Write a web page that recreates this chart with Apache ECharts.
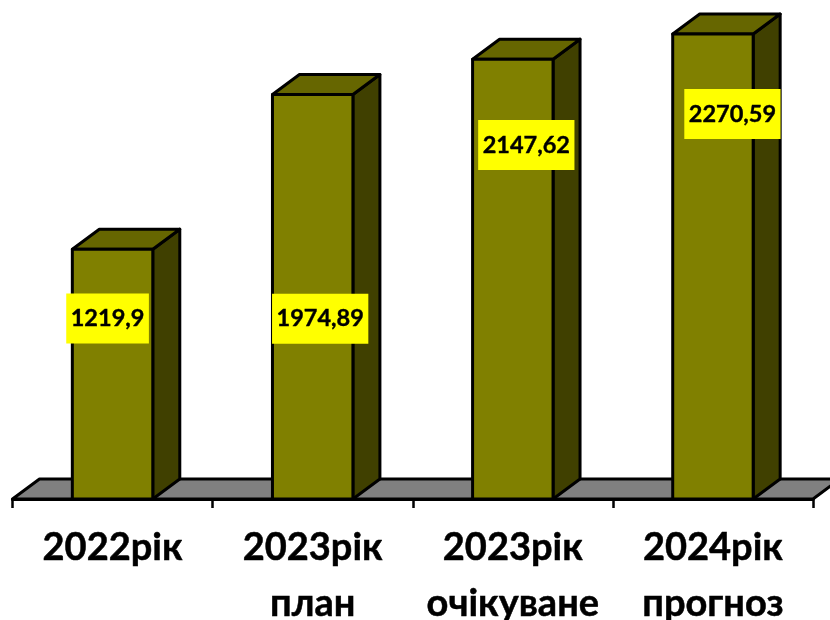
<!DOCTYPE html>
<html>
<head>
<meta charset="utf-8">
<style>html,body{margin:0;padding:0;background:#fff}#chart{width:830px;height:620px}</style>
<script src="https://cdn.jsdelivr.net/npm/echarts@6/dist/echarts.min.js"></script>
</head>
<body>
<div id="chart"></div>
<script>
const categories = ['2022рік', '2023рік\nплан', '2023рік\nочікуване', '2024рік\nпрогноз'];
const values = [1219.9, 1974.89, 2147.62, 2270.59];
const valueLabels = ['1219,9', '1974,89', '2147,62', '2270,59'];
const labelShiftX = [-5, 7.5, 13.5, 19.5];
const labelShiftY = [-55.5, 22, -134, -152.5];

const FONT = 'Lato, "Open Sans", sans-serif';
const DX = 27, DY = -20, BAR_RATIO = 0.402;
const edge = {stroke: '#000', lineWidth: 3, lineJoin: 'round'};

function renderBar(params, api) {
  const i = api.value(0), v = api.value(1);
  const top = api.coord([i, v]);
  const base = api.coord([i, 0]);
  const w = api.size([1, 0])[0] * BAR_RATIO;
  const l = top[0] - w / 2, r = top[0] + w / 2, t = top[1], b = base[1];
  const cs = params.coordSys;
  const children = [];
  const poly = (pts, fill) => ({
    type: 'polygon',
    shape: {points: pts},
    style: Object.assign({fill}, edge)
  });
  if (params.dataIndex === 0) {
    children.push(poly([
      [cs.x, b], [cs.x + DX, b + DY],
      [cs.x + cs.width + DX, b + DY], [cs.x + cs.width, b]
    ], '#808080'));
  }
  children.push(poly([[r, t], [r + DX, t + DY], [r + DX, b + DY], [r, b]], '#404000'));
  children.push(poly([[l, t], [l + DX, t + DY], [r + DX, t + DY], [r, t]], '#666600'));
  children.push(poly([[l, t], [r, t], [r, b], [l, b]], '#808000'));
  children.push({
    type: 'text',
    z2: 10,
    style: {
      text: valueLabels[params.dataIndex],
      x: top[0] + labelShiftX[params.dataIndex],
      y: (t + b) / 2 + labelShiftY[params.dataIndex],
      align: 'center',
      verticalAlign: 'middle',
      font: 'bold 23.5px ' + FONT,
      fill: '#000',
      stroke: '#000',
      lineWidth: 0.4,
      backgroundColor: '#ffff00',
      padding: [13, 4.5, 13, 4.5]
    }
  });
  return {type: 'group', children};
}

const chart = echarts.init(document.getElementById('chart'), null, {renderer: 'canvas'});
chart.setOption({
  animation: false,
  backgroundColor: '#fff',
  grid: {left: 12.5, top: 7.5, width: 800.5, height: 491.5, containLabel: false, outerBoundsMode: 'none'},
  xAxis: {
    type: 'category',
    data: categories,
    z: 10,
    axisLine: {lineStyle: {color: '#000', width: 3}},
    axisTick: {show: true, length: 9, lineStyle: {color: '#000', width: 2.5}},
    axisLabel: {
      interval: 0,
      margin: 21,
      fontFamily: FONT,
      fontWeight: 'bold',
      fontSize: 38,
      lineHeight: 56,
      color: '#000',
      textBorderColor: '#000',
      textBorderWidth: 0.5
    }
  },
  yAxis: {type: 'value', min: 0, max: 2400, show: false, splitLine: {show: false}},
  series: [{
    type: 'custom',
    renderItem: renderBar,
    clip: false,
    encode: {x: 0, y: 1},
    data: values.map((v, i) => [i, v])
  }]
});
</script>
</body>
</html>
